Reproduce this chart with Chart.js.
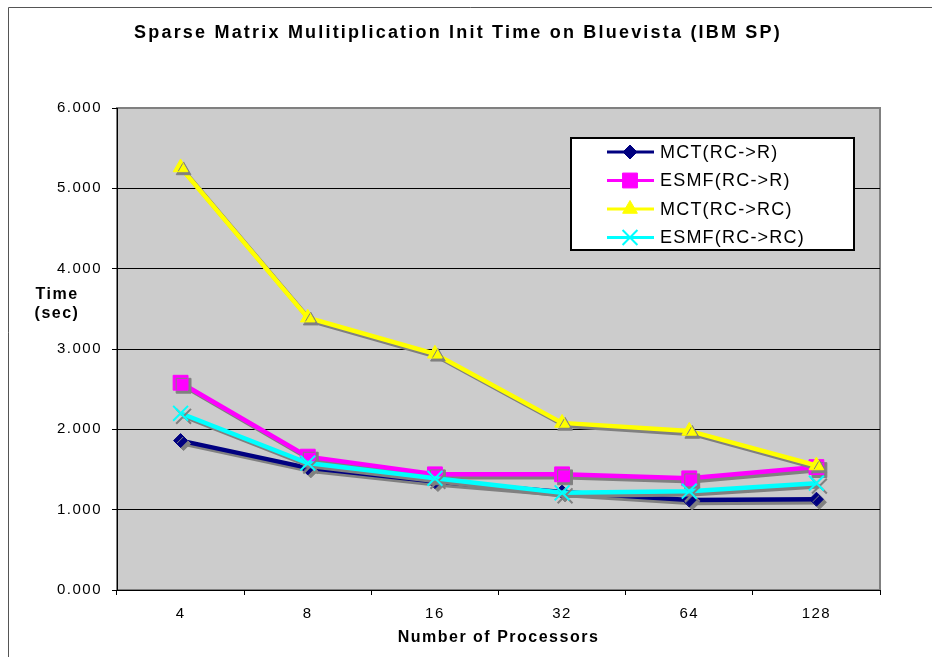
<!DOCTYPE html>
<html>
<head>
<meta charset="utf-8">
<title>Sparse Matrix Mulitiplication Init Time</title>
<script src="https://cdn.jsdelivr.net/npm/chart.js@4.4.0/dist/chart.umd.min.js"></script>
<style>
  html, body { margin: 0; padding: 0; background: #fff; }
  canvas { display: block; }
</style>
</head>
<body>
<canvas id="chart" width="932" height="657"></canvas>
<script>
// Values
const processors = ['4', '8', '16', '32', '64', '128'];
const mctR = [1.86, 1.52, 1.35, 1.22, 1.12, 1.13];
const esmfR = [2.58, 1.66, 1.44, 1.44, 1.39, 1.53];
const mctRC = [5.26, 3.39, 2.94, 2.08, 1.98, 1.55];
const esmfRC = [2.20, 1.58, 1.39, 1.21, 1.23, 1.33];
const seriesNames = ['MCT(RC->R)', 'ESMF(RC->R)', 'MCT(RC->RC)', 'ESMF(RC->RC)'];
const yTicks = [0, 1, 2, 3, 4, 5, 6];

const chartTitle = 'Sparse Matrix Mulitiplication Init Time on Bluevista (IBM SP)';
const FONT = '"Liberation Sans", Arial, sans-serif';

// Excel-ish series styles
const styles = [
  { color: '#000080', pointStyle: 'rectRot', radius: 7, bw: 1 },
  { color: '#FF00FF', pointStyle: 'rect', radius: 10.5, bw: 1 },
  { color: '#FFFF00', pointStyle: 'triangle', radius: 8.5, bw: 1 },
  { color: '#00FFFF', pointStyle: 'crossRot', radius: 10.5, bw: 2 },
];
const values = [mctR, esmfR, mctRC, esmfRC];

const datasets = values.map((data, i) => ({
  label: seriesNames[i],
  data: data,
  borderColor: styles[i].color,
  backgroundColor: styles[i].color,
  borderWidth: 4.5,
  pointStyle: styles[i].pointStyle,
  pointRadius: styles[i].radius,
  pointBorderWidth: styles[i].bw,
  pointBackgroundColor: styles[i].color,
  pointBorderColor: styles[i].color,
  fill: false,
  tension: 0,
  order: 4 - i, // first series at the bottom, like Excel
}));

// Background, frame, grey plot area and letter spacing
const backdrop = {
  id: 'backdrop',
  beforeDraw(chart) {
    const { ctx, chartArea: a } = chart;
    ctx.save();
    ctx.fillStyle = '#fff';
    ctx.fillRect(0, 0, chart.width, chart.height);
    ctx.strokeStyle = '#555';
    ctx.lineWidth = 1;
    ctx.beginPath();
    ctx.moveTo(8.5, chart.height);
    ctx.lineTo(8.5, 7.5);
    ctx.lineTo(chart.width, 7.5);
    ctx.stroke();
    ctx.fillStyle = '#CCCCCC';
    ctx.fillRect(a.left, a.top, a.right - a.left, a.bottom - a.top);
    ctx.strokeStyle = '#808080';
    ctx.lineWidth = 2;
    ctx.strokeRect(a.left, a.top, a.right - a.left, a.bottom - a.top);
    ctx.restore();
    ctx.letterSpacing = '1.5px';
  }
};

// Grey drop shadow under lines and markers
const shadow = {
  id: 'shadow',
  beforeDatasetsDraw(chart) {
    const ctx = chart.ctx;
    ctx.save();
    ctx.shadowColor = '#808080';
    ctx.shadowOffsetX = 3;
    ctx.shadowOffsetY = 3;
    ctx.shadowBlur = 0;
  },
  afterDatasetsDraw(chart) {
    chart.ctx.restore();
  }
};

// Title, horizontal y-axis title and boxed legend
const labels = {
  id: 'labels',
  afterDraw(chart) {
    const ctx = chart.ctx;
    ctx.save();
    ctx.fillStyle = '#000';
    ctx.textAlign = 'center';
    ctx.textBaseline = 'middle';
    ctx.letterSpacing = '2.2px';
    ctx.font = 'bold 18px ' + FONT;
    ctx.fillText(chartTitle, 458, 33);

    ctx.letterSpacing = '1.5px';
    ctx.font = 'bold 16px ' + FONT;
    ctx.fillText('Time', 57, 295);
    ctx.fillText('(sec)', 57, 314);

    // legend box
    ctx.fillStyle = '#fff';
    ctx.fillRect(571, 138, 283, 112);
    ctx.strokeStyle = '#000';
    ctx.lineWidth = 2;
    ctx.strokeRect(571, 138, 283, 112);

    ctx.letterSpacing = '1.2px';
    ctx.font = '18px ' + FONT;
    ctx.textAlign = 'left';
    chart.data.datasets.forEach((ds, i) => {
      const y = 152 + i * 28.5;
      ctx.strokeStyle = ds.borderColor;
      ctx.lineWidth = 3;
      ctx.beginPath();
      ctx.moveTo(607, y);
      ctx.lineTo(654, y);
      ctx.stroke();
      ctx.fillStyle = ds.pointBackgroundColor;
      ctx.strokeStyle = ds.pointBorderColor;
      ctx.lineWidth = ds.pointBorderWidth;
      Chart.helpers.drawPoint(ctx, {
        pointStyle: ds.pointStyle,
        radius: ds.pointRadius,
        borderWidth: ds.pointBorderWidth,
        rotation: 0
      }, 630, y);
      ctx.fillStyle = '#000';
      ctx.fillText(ds.label, 660, y + 1);
    });
    ctx.restore();
  }
};

new Chart(document.getElementById('chart'), {
  type: 'line',
  data: { labels: processors, datasets: datasets },
  options: {
    responsive: false,
    animation: false,
    devicePixelRatio: 1,
    layout: { padding: { top: 108, right: 52, left: 0, bottom: 0 } },
    plugins: {
      legend: { display: false },
      title: { display: false },
      tooltip: { enabled: false },
    },
    scales: {
      x: {
        type: 'category',
        offset: true,
        grid: { offset: true, drawOnChartArea: false, tickLength: 5, color: '#000' },
        border: { color: '#000', width: 1 },
        ticks: {
          color: '#000',
          font: { family: FONT, size: 15 },
          padding: 10,
          maxRotation: 0,
          autoSkip: false,
        },
        title: {
          display: true,
          text: 'Number of Processors',
          color: '#000',
          font: { family: FONT, size: 16, weight: 'bold' },
          padding: { top: 0, bottom: 10 },
        },
        afterFit: (s) => { s.height = 67; },
      },
      y: {
        min: yTicks[0],
        max: yTicks[yTicks.length - 1],
        ticks: {
          stepSize: yTicks[1] - yTicks[0],
          color: '#000',
          font: { family: FONT, size: 15 },
          padding: 10,
          callback: (v) => Number(v).toFixed(3),
        },
        grid: {
          color: (c) => (c.tick && c.tick.value === yTicks[yTicks.length - 1]) ? '#808080' : '#000',
          tickColor: '#000',
          tickLength: 5,
          lineWidth: 1,
        },
        border: { color: '#000', width: 1 },
        afterFit: (s) => { s.width = 117; },
      },
    },
  },
  plugins: [backdrop, shadow, labels],
});
</script>
</body>
</html>
